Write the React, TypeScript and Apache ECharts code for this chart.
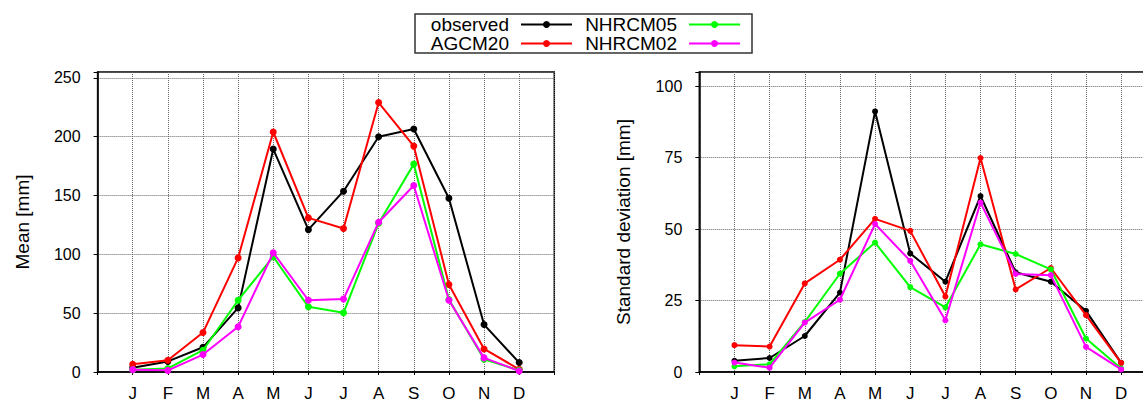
import React, { useEffect, useRef } from "react";
import * as echarts from "echarts";

const months = ["J", "F", "M", "A", "M", "J", "J", "A", "S", "O", "N", "D"];
const seriesNames = ["observed", "AGCM20", "NHRCM05", "NHRCM02"];
const seriesColors = ["#000000", "#ff0000", "#00ff00", "#ff00ff"];

// Mean [mm]
const meanObserved = [3.7, 9, 21, 54.5, 189.5, 121, 153.7, 200, 206.5, 147.7, 40.3, 8];
const meanAGCM20 = [6.5, 10, 33.5, 97, 204, 131, 122, 229, 192, 74.4, 19.6, 2.3];
const meanNHRCM05 = [2, 3, 18.5, 61, 98, 55.4, 50.3, 126.4, 176.7, 61.6, 10.8, 1.4];
const meanNHRCM02 = [2, 1.4, 14.8, 38.4, 101.4, 61, 62, 127.3, 158.5, 61, 12, 0.9];

// Standard deviation [mm]
const sdObserved = [3.9, 4.9, 12.6, 27.8, 91.2, 41.5, 31.6, 61.6, 34.9, 31.6, 21.4, 3.2];
const sdAGCM20 = [9.4, 8.9, 31, 39.3, 53.6, 49.4, 26.4, 74.9, 28.9, 36.4, 19.9, 3.2];
const sdNHRCM05 = [2, 2.7, 17.5, 34.4, 45.3, 29.7, 22.6, 44.7, 41.3, 35.9, 11.7, 1.2];
const sdNHRCM02 = [3.3, 1.5, 17.3, 25.3, 51.8, 38.9, 18.1, 59.3, 34.3, 33.9, 8.8, 0.9];

const meanTicks = [0, 50, 100, 150, 200, 250];
const sdTicks = [0, 25, 50, 75, 100];

const FONT = "Liberation Sans, Arial, Helvetica, sans-serif";

function toPairs(values: number[]) {
  return values.map((v, i) => [i + 1, v]);
}

export default function App() {
  const ref = useRef<HTMLDivElement>(null);

  useEffect(() => {
    if (!ref.current) return;
    const chart = echarts.init(ref.current, null, { renderer: "svg" });

    const gridBase = {
      top: 72,
      height: 300,
      show: true,
      borderColor: "#000",
      borderWidth: 1.5,
      backgroundColor: "transparent",
      containLabel: false,
    };

    const xAxisBase = (gridIndex: number) => ({
      type: "value",
      gridIndex,
      min: 0,
      max: 13,
      interval: 1,
      axisLine: { show: true, lineStyle: { color: "#000", width: 1.5 } },
      axisTick: { show: true, length: 3, lineStyle: { color: "#000" } },
      axisLabel: {
        margin: 13,
        fontSize: 17,
        fontFamily: FONT,
        color: "#000",
        formatter: (v: number) => (v >= 1 && v <= 12 ? months[v - 1] : ""),
      },
      splitLine: { show: true, lineStyle: { type: "dotted", color: "#666", width: 1 } },
    });

    const yAxisBase = (gridIndex: number, max: number, interval: number, ticks: number[], name: string) => ({
      type: "value",
      gridIndex,
      min: 0,
      max,
      interval,
      name,
      nameLocation: "middle",
      nameGap: 66,
      nameTextStyle: { fontSize: 19, fontFamily: FONT, color: "#000" },
      axisLine: { show: true, lineStyle: { color: "#000", width: 1.5 } },
      axisTick: { show: true, length: 4, lineStyle: { color: "#000" } },
      axisLabel: {
        margin: 17,
        fontSize: 16,
        fontFamily: FONT,
        color: "#000",
        formatter: (v: number) => (ticks.indexOf(v) >= 0 ? String(v) : ""),
      },
      splitLine: { show: true, lineStyle: { type: "dotted", color: "#666", width: 1 } },
    });

    const meanData = [meanObserved, meanAGCM20, meanNHRCM05, meanNHRCM02];
    const sdData = [sdObserved, sdAGCM20, sdNHRCM05, sdNHRCM02];

    const series: any[] = [];
    seriesNames.forEach((name, k) => {
      series.push({
        name,
        type: "line",
        xAxisIndex: 0,
        yAxisIndex: 0,
        data: toPairs(meanData[k]),
        symbol: "circle",
        symbolSize: 7,
        showSymbol: true,
        lineStyle: { color: seriesColors[k], width: 2 },
        itemStyle: { color: seriesColors[k] },
        z: 10 + k,
      });
      series.push({
        name,
        type: "line",
        xAxisIndex: 1,
        yAxisIndex: 1,
        data: toPairs(sdData[k]),
        symbol: "circle",
        symbolSize: 6,
        showSymbol: true,
        lineStyle: { color: seriesColors[k], width: 2 },
        itemStyle: { color: seriesColors[k] },
        z: 10 + k,
      });
    });

    // Legend drawn as graphic: text right-aligned, then line with dot
    const legendCols = [
      { textRight: 509, lineX1: 521, lineX2: 572 },
      { textRight: 677, lineX1: 689, lineX2: 740 },
    ];
    const legendRows = [24.5, 43.5];
    const legendOrder = [
      [0, 0, 0],
      [2, 1, 0],
      [1, 0, 1],
      [3, 1, 1],
    ];
    const legendElems: any[] = [
      {
        type: "rect",
        shape: { x: 415, y: 14, width: 337, height: 39 },
        style: { fill: "#fff", stroke: "#333", lineWidth: 1.5 },
        z: 100,
      },
    ];
    legendOrder.forEach(([si, ci, ri]) => {
      const c = legendCols[ci];
      const y = legendRows[ri];
      legendElems.push({
        type: "text",
        x: c.textRight,
        y,
        style: {
          text: seriesNames[si],
          font: `19px ${FONT}`,
          fill: "#000",
          align: "right",
          verticalAlign: "middle",
        },
        z: 101,
      });
      legendElems.push({
        type: "line",
        shape: { x1: c.lineX1, y1: y, x2: c.lineX2, y2: y },
        style: { stroke: seriesColors[si], lineWidth: 2 },
        z: 101,
      });
      legendElems.push({
        type: "circle",
        shape: { cx: (c.lineX1 + c.lineX2) / 2, cy: y, r: 3.5 },
        style: { fill: seriesColors[si] },
        z: 102,
      });
    });

    chart.setOption({
      animation: false,
      backgroundColor: "#fff",
      textStyle: { fontFamily: FONT },
      grid: [
        { ...gridBase, left: 97.6, width: 456.7 },
        { ...gridBase, left: 699.3, width: 457 },
      ],
      xAxis: [xAxisBase(0), xAxisBase(1)],
      yAxis: [
        yAxisBase(0, 255, 50, meanTicks, "Mean [mm]"),
        yAxisBase(1, 105, 25, sdTicks, "Standard deviation [mm]"),
      ],
      series,
      graphic: legendElems,
    } as any);

    return () => chart.dispose();
  }, []);

  return (
    <div
      style={{
        position: "fixed",
        left: 0,
        top: 0,
        width: 1143,
        height: 403,
        overflow: "hidden",
        background: "#fff",
      }}
    >
      <div ref={ref} style={{ width: 1175, height: 403 }} />
    </div>
  );
}
